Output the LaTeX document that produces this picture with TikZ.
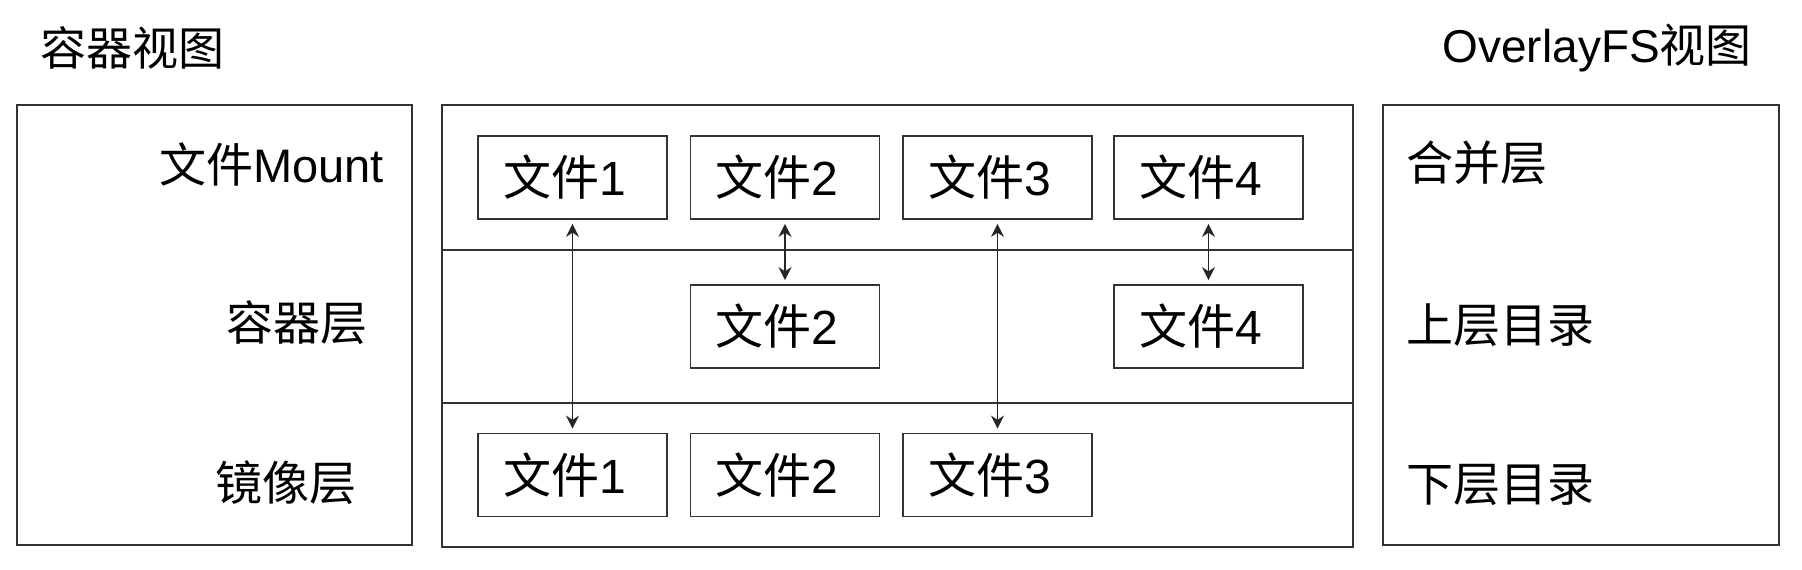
\documentclass[tikz,border=0pt]{standalone}
\usepackage{fontspec}
\setmainfont{Liberation Sans}
\newfontfamily\cjk{Noto Sans CJK SC}
\usetikzlibrary{arrows.meta}
\newcommand{\ftxt}[1]{{\cjk 文件}#1\hspace*{16pt}}
\begin{document}
\begin{tikzpicture}[x=1pt,y=-1pt,
  frame/.style={draw=black!80, line width=1.8pt},
  filebox/.style={draw=black!80, line width=1.8pt, minimum width=189pt, minimum height=83pt, inner sep=0pt, font=\fontsize{48}{54}\selectfont},
  lbl/.style={inner sep=0pt, font=\fontsize{47}{53}\selectfont},
  link/.style={line width=1.6pt, black!85, {Stealth[length=13pt,width=13pt]}-{Stealth[length=13pt,width=13pt]}, shorten <=4pt, shorten >=4pt}]
\useasboundingbox (0,0) rectangle (1802,570);
% frames
\node[frame, minimum width=395pt, minimum height=440pt, inner sep=0pt] (left) at (214.5,325) {};
\node[frame, minimum width=911pt, minimum height=442pt, inner sep=0pt] (mid) at (897.5,326) {};
\node[frame, minimum width=396pt, minimum height=440pt, inner sep=0pt] (right) at (1581,325) {};
\coordinate (d1l) at (442,250); \coordinate (d1r) at (1353,250);
\coordinate (d2l) at (442,403); \coordinate (d2r) at (1353,403);
\draw[frame] (d1l) -- (d1r);
\draw[frame] (d2l) -- (d2r);
% titles
\node[lbl, font=\fontsize{46}{52}\selectfont, anchor=west] (t1) at (40,48) {\cjk 容器视图};
\node[lbl, font=\fontsize{46}{52}\selectfont, anchor=east] (t2) at (1752,48) {OverlayFS{\cjk 视图}};
% left labels
\node[lbl, anchor=east] (l1) at (384,164) {{\cjk 文件}Mount};
\node[lbl, anchor=east] (l2) at (368,323) {\cjk 容器层};
\node[lbl, anchor=east] (l3) at (357,483) {\cjk 镜像层};
% right labels
\node[lbl, anchor=west] (r1) at (1406,163) {\cjk 合并层};
\node[lbl, anchor=west] (r2) at (1406,325) {\cjk 上层目录};
\node[lbl, anchor=west] (r3) at (1406,485) {\cjk 下层目录};
% files
\node[filebox] (m1) at (572.5,177.5) {\ftxt{1}};
\node[filebox] (m2) at (785,177.5) {\ftxt{2}};
\node[filebox] (m3) at (997.5,177.5) {\ftxt{3}};
\node[filebox] (m4) at (1208.5,177.5) {\ftxt{4}};
\node[filebox] (u2) at (785,326.5) {\ftxt{2}};
\node[filebox] (u4) at (1208.5,326.5) {\ftxt{4}};
\node[filebox] (b1) at (572.5,475) {\ftxt{1}};
\node[filebox] (b2) at (785,475) {\ftxt{2}};
\node[filebox] (b3) at (997.5,475) {\ftxt{3}};
% links
\draw[link] (m1.south) -- (b1.north);
\draw[link] (m2.south) -- (u2.north);
\draw[link] (m3.south) -- (b3.north);
\draw[link] (m4.south) -- (u4.north);
\end{tikzpicture}
\end{document}
